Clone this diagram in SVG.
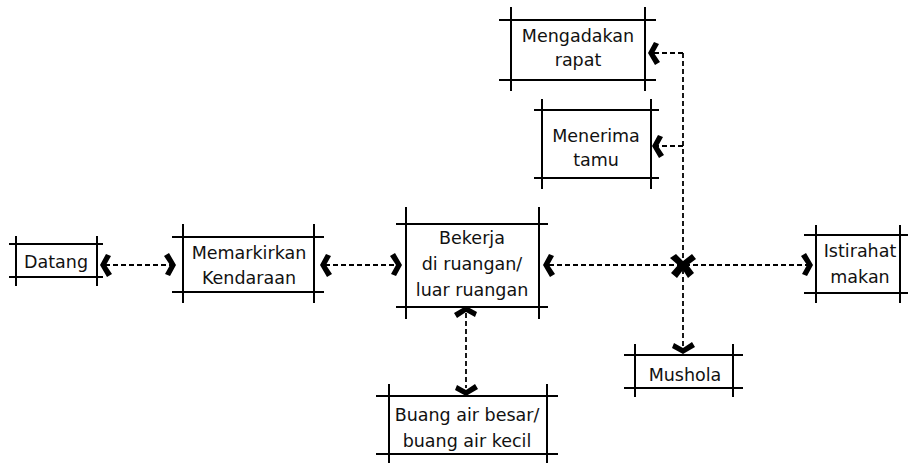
<svg xmlns="http://www.w3.org/2000/svg" width="908" height="463" viewBox="0 0 908 463">
  <style>
    .frame { stroke: #000; stroke-width: 2; fill: none; stroke-linecap: square; }
    .lbl { font-family: "DejaVu Sans", "Liberation Sans", sans-serif; font-size: 17.5px; fill: #111; text-anchor: middle; }
    .link { stroke: #000; stroke-width: 1.8; fill: none; stroke-dasharray: 5 3; }
    .head { fill: #000; }
  </style>
  <defs>
    <!-- bold chevron arrowhead, tip at origin, pointing left -->
    <path id="chev" d="M0,0 L6,-11 L11,-9 L6,0 L12,9 L7,12 Z"/>
  </defs>
  <rect width="908" height="463" fill="#fff"/>

  <!-- connectors -->
  <g id="connectors">
    <path class="link" d="M105,265 H170"/>
    <path class="link" d="M325,265 H396"/>
    <path class="link" d="M549,265 H807"/>
    <path class="link" d="M683,53 V346"/>
    <path class="link" d="M683,53 H653"/>
    <path class="link" d="M683,146 H657"/>
    <path class="link" d="M466,313 V388"/>
    <g class="head">
      <use href="#chev" transform="translate(100,265)"/>
      <use href="#chev" transform="translate(176,265) rotate(180)"/>
      <use href="#chev" transform="translate(320,265)"/>
      <use href="#chev" transform="translate(402,265) rotate(180)"/>
      <use href="#chev" transform="translate(543,265)"/>
      <use href="#chev" transform="translate(813,265) rotate(180)"/>
      <use href="#chev" transform="translate(648,53)"/>
      <use href="#chev" transform="translate(652,146)"/>
      <use href="#chev" transform="translate(683,354) rotate(-90)"/>
      <use href="#chev" transform="translate(466,306) rotate(90)"/>
      <use href="#chev" transform="translate(466,396) rotate(-90)"/>
      <!-- junction cross -->
      <path d="M670,258 L676,254 L683,261 L692,254 L696,259 L688,265 L694,273 L688,278 L683,270 L677,278 L671,273 L678,265 Z"/>
    </g>
  </g>

  <g id="datang">
    <path class="frame" d="M10,244 H102 M10,277 H102 M16,237 V285 M97,237 V285"/>
    <text class="lbl" x="56" y="268">Datang</text>
  </g>

  <g id="memarkirkan">
    <path class="frame" d="M173,237 H323 M173,292 H323 M183,225 V302 M314,225 V302"/>
    <text class="lbl" x="249" y="259">Memarkirkan</text>
    <text class="lbl" x="249" y="284">Kendaraan</text>
  </g>

  <g id="bekerja">
    <path class="frame" d="M397,224 H547 M397,307 H547 M406,208 V318 M539,208 V318"/>
    <text class="lbl" x="472" y="244">Bekerja</text>
    <text class="lbl" x="472" y="270">di ruangan/</text>
    <text class="lbl" x="472" y="296">luar ruangan</text>
  </g>

  <g id="istirahat">
    <path class="frame" d="M805,235 H908 M805,293 H908 M816,226 V302 M900,226 V302"/>
    <text class="lbl" x="860" y="257">Istirahat</text>
    <text class="lbl" x="860" y="283">makan</text>
  </g>

  <g id="mengadakan">
    <path class="frame" d="M500,20 H655 M500,80 H655 M511,8 V90 M645,8 V90"/>
    <text class="lbl" x="578" y="42">Mengadakan</text>
    <text class="lbl" x="578" y="66">rapat</text>
  </g>

  <g id="menerima">
    <path class="frame" d="M535,110 H658 M535,178 H658 M542,100 V188 M651,100 V188"/>
    <text class="lbl" x="596" y="142">Menerima</text>
    <text class="lbl" x="596" y="166">tamu</text>
  </g>

  <g id="mushola">
    <path class="frame" d="M625,355 H742 M625,388 H742 M635,345 V396 M733,345 V396"/>
    <text class="lbl" x="685" y="381">Mushola</text>
  </g>

  <g id="buang-air">
    <path class="frame" d="M377,396 H557 M377,454 H557 M389,385 V463 M547,385 V463"/>
    <text class="lbl" x="467" y="421">Buang air besar/</text>
    <text class="lbl" x="467" y="447">buang air kecil</text>
  </g>
</svg>
